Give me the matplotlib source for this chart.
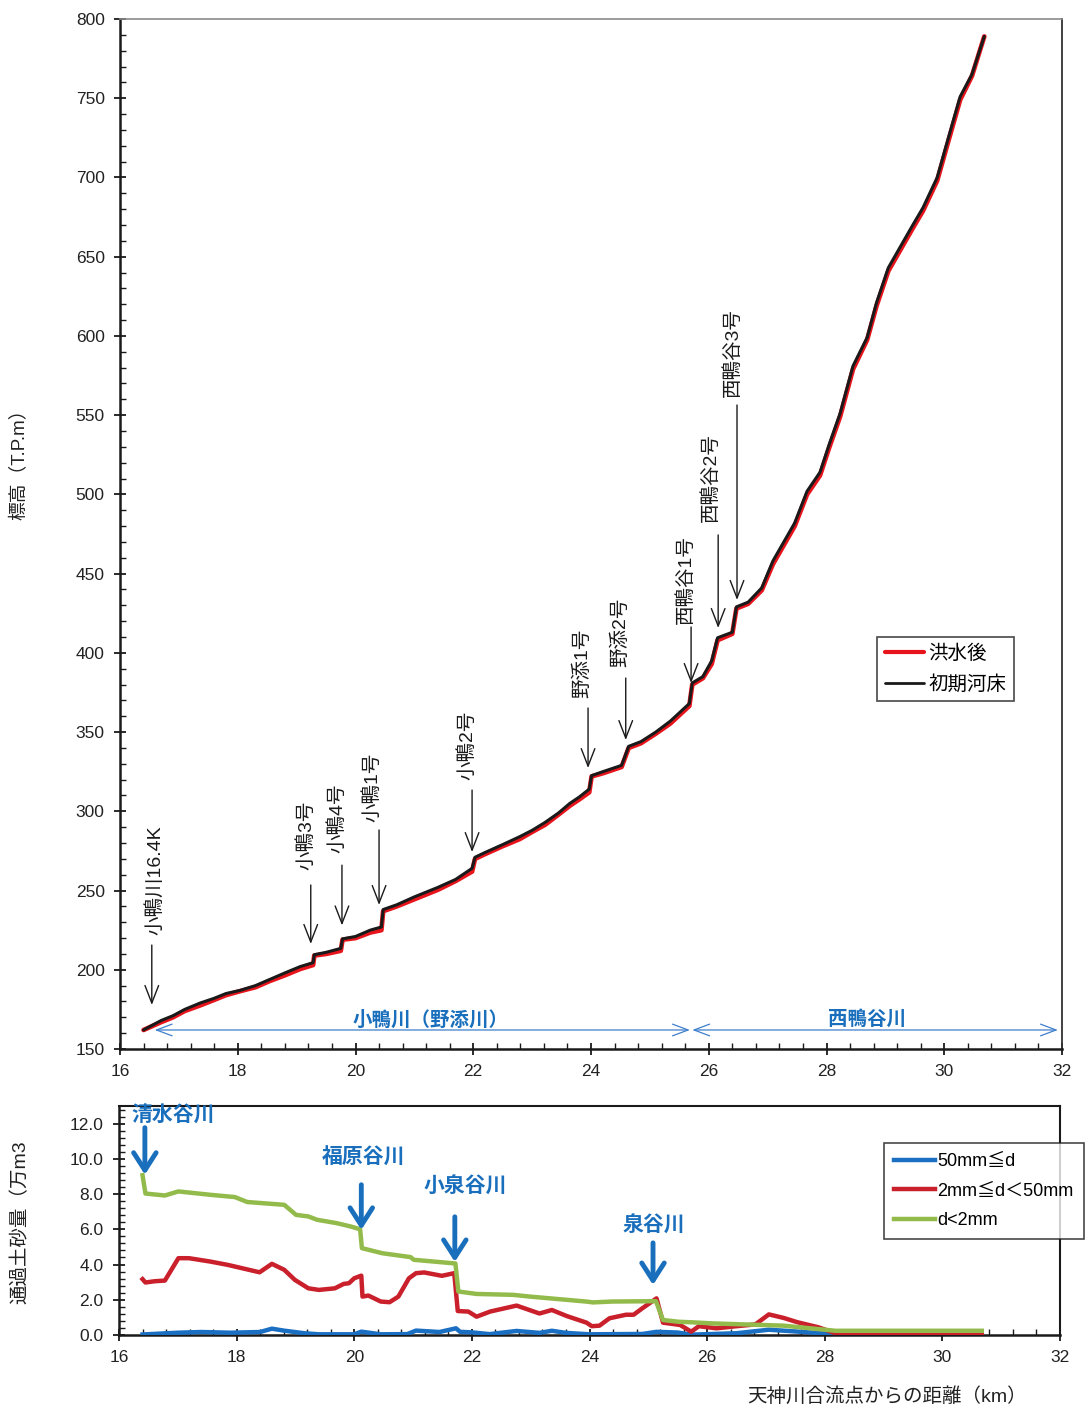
import matplotlib
matplotlib.use("Agg")
import matplotlib.pyplot as plt
from matplotlib.ticker import MultipleLocator

plt.rcParams['font.family'] = ['Liberation Sans', 'Noto Sans CJK JP']

# ---- longitudinal bed profile (distance from Tenjin confluence, km / elevation T.P.m) ----
dist_km = [16.40, 16.55, 16.70, 16.90, 17.10, 17.36, 17.60, 17.80, 18.04, 18.30,
           18.55, 18.80, 19.06, 19.28, 19.30, 19.50, 19.75, 19.78, 20.00, 20.25,
           20.44, 20.47, 20.70, 21.00, 21.40, 21.70, 21.98, 22.03, 22.20, 22.50,
           22.79, 23.00, 23.22, 23.45, 23.64, 23.80, 23.97, 24.01, 24.20, 24.52,
           24.64, 24.85, 25.10, 25.35, 25.67, 25.72, 25.90, 26.05, 26.15, 26.40,
           26.47, 26.67, 26.90, 27.09, 27.46, 27.67, 27.89, 28.05, 28.23, 28.45,
           28.69, 28.85, 29.05, 29.45, 29.64, 29.88, 30.07, 30.27, 30.47, 30.68]
bed_initial = [162, 165, 168, 171, 175, 179, 182, 185, 187, 190,
               194, 198, 202, 204.5, 209.5, 211, 213.5, 219.5, 221, 225,
               227, 238, 241, 246, 252, 257, 264, 271, 274, 279,
               284, 288, 293, 299, 305, 309, 314, 322.5, 325, 329,
               341, 344, 350, 357, 368, 381, 385, 395, 409.5, 413,
               429, 432, 441, 458, 482, 502, 514, 532, 551, 581,
               599, 621, 643, 669, 681, 700, 725, 751, 765, 789]
bed_after = [162, 164.5, 167, 170, 174, 177.5, 181, 184, 186.5, 189,
             193, 196.5, 200.5, 203, 209, 210, 212, 219, 220, 223.5,
             225, 237, 240, 244.5, 250.5, 256, 262, 270, 273, 278,
             282.5, 287, 291.5, 298, 303.5, 307.5, 312, 322, 324, 328,
             340, 343, 349, 355.5, 366.5, 380, 384, 393, 408, 412,
             428, 431, 439.5, 456, 480, 500, 512, 530, 549, 579,
             597.5, 619, 641, 667, 679, 698, 723, 749, 764, 789]

# ---- passing sediment volume (10^4 m3) by grain size ----
coarse_x = [16.40, 17.00, 17.40, 17.90, 18.40, 18.60, 18.80, 19.15, 19.40, 20.00,
            20.12, 20.45, 20.90, 21.05, 21.45, 21.73, 21.80, 22.00, 22.30, 22.76,
            23.15, 23.36, 23.60, 24.00, 24.90, 25.14, 25.50, 25.73, 26.50, 27.05,
            27.60, 28.18, 30.67]
coarse_v = [0.03, 0.13, 0.17, 0.13, 0.17, 0.36, 0.25, 0.10, 0.04, 0.04,
            0.19, 0.04, 0.05, 0.25, 0.17, 0.38, 0.18, 0.15, 0.05, 0.23,
            0.12, 0.24, 0.12, 0.04, 0.06, 0.18, 0.14, 0.02, 0.10, 0.30,
            0.18, 0.04, 0.03]
gravel_x = [16.40, 16.45, 16.60, 16.78, 17.01, 17.19, 17.55, 17.85, 18.39, 18.60,
            18.81, 18.99, 19.22, 19.40, 19.67, 19.82, 19.91, 20.00, 20.12, 20.14,
            20.24, 20.45, 20.60, 20.75, 20.93, 21.05, 21.19, 21.49, 21.70, 21.76,
            21.94, 22.08, 22.31, 22.76, 23.15, 23.36, 23.61, 23.95, 24.04, 24.17,
            24.34, 24.62, 24.75, 24.90, 25.14, 25.25, 25.54, 25.73, 25.86, 26.16,
            26.50, 26.82, 27.05, 27.30, 27.53, 27.89, 28.18, 30.67]
gravel_v = [3.17, 2.98, 3.05, 3.09, 4.36, 4.36, 4.17, 3.98, 3.56, 4.04,
            3.70, 3.13, 2.65, 2.56, 2.65, 2.90, 2.94, 3.22, 3.37, 2.18,
            2.24, 1.90, 1.86, 2.18, 3.22, 3.51, 3.55, 3.36, 3.51, 1.36,
            1.33, 1.04, 1.33, 1.67, 1.22, 1.42, 1.08, 0.70, 0.50, 0.53,
            0.95, 1.15, 1.15, 1.52, 2.08, 0.70, 0.57, 0.19, 0.50, 0.38,
            0.50, 0.60, 1.17, 0.97, 0.73, 0.44, 0.10, 0.00]
fine_x = [16.40, 16.45, 16.78, 17.01, 17.55, 17.97, 18.18, 18.81, 19.01, 19.22,
          19.37, 19.70, 19.94, 20.10, 20.13, 20.48, 20.96, 21.01, 21.72, 21.77,
          22.08, 22.70, 22.99, 23.94, 24.06, 24.39, 25.13, 25.25, 25.52, 25.75,
          26.08, 27.30, 28.18, 30.67]
fine_v = [9.07, 8.03, 7.92, 8.15, 7.96, 7.83, 7.55, 7.39, 6.82, 6.73,
          6.54, 6.35, 6.16, 6.00, 4.93, 4.64, 4.42, 4.27, 4.06, 2.47,
          2.33, 2.28, 2.18, 1.90, 1.85, 1.90, 1.92, 0.85, 0.75, 0.72,
          0.66, 0.53, 0.24, 0.24]

# structure labels: (text, text x, text base elev, arrow x, arrow tail, arrow tip)
structures = [
    ("小鴨川16.4K", 16.59, 222.0, 16.54, 215.6, 177.8),
    ("小鴨3号", 19.16, 263.0, 19.24, 253.5, 216.3),
    ("小鴨4号", 19.69, 273.7, 19.77, 266.0, 228.0),
    ("小鴨1号", 20.28, 293.3, 20.40, 288.2, 240.9),
    ("小鴨2号", 21.89, 319.8, 21.98, 313.4, 274.3),
    ("野添1号", 23.85, 371.5, 23.95, 365.2, 327.3),
    ("野添2号", 24.49, 391.0, 24.59, 384.1, 345.0),
    ("西鴨谷1号", 25.61, 418.0, 25.70, 416.3, 381.0),
    ("西鴨谷2号", 26.02, 482.6, 26.16, 474.4, 415.7),
    ("西鴨谷3号", 26.40, 561.5, 26.48, 556.4, 433.4),
]

# tributaries: (name, text x, text y, arrow x, arrow tail, arrow tip)
tributaries = [
    ("清水谷川", 16.92, 12.51, 16.44, 11.77, 9.10),
    ("福原谷川", 20.15, 10.07, 20.12, 8.53, 5.97),
    ("小泉谷川", 21.88, 8.42, 21.71, 6.71, 4.15),
    ("泉谷川", 25.10, 6.20, 25.08, 5.23, 2.84),
]

W, H = 1086, 1407
fig = plt.figure(figsize=(W / 100, H / 100), dpi=100)
ax = fig.add_axes([120 / W, 1 - 1049 / H, (1062 - 120) / W, (1049 - 19) / H])
ax2 = fig.add_axes([119 / W, 1 - 1335 / H, (1060 - 119) / W, (1335 - 1106) / H])

BLUE_TXT = '#1a6fbd'

# ---------------- upper panel ----------------
ax.plot(dist_km, bed_after, color='#e8141c', lw=3.4, label='洪水後', zorder=3,
        solid_capstyle='round')
ax.plot(dist_km, bed_initial, color='#1a1a1a', lw=2.2, label='初期河床', zorder=4,
        solid_capstyle='round')
ax.set_xlim(16, 32)
ax.set_ylim(150, 800)
ax.xaxis.set_major_locator(MultipleLocator(2))
ax.xaxis.set_minor_locator(MultipleLocator(0.4))
ax.yaxis.set_major_locator(MultipleLocator(50))
ax.yaxis.set_minor_locator(MultipleLocator(10))

for a in (ax, ax2):
    a.tick_params(which='major', direction='inout', length=8, width=1.3,
                  labelsize=12.5, color='#1a1a1a', labelcolor='#222222', pad=7)
    a.tick_params(which='minor', direction='in', length=4, width=1.0, color='#1a1a1a')
    a.tick_params(top=False, right=False, which='both')
    a.spines['left'].set_linewidth(1.8)
    a.spines['bottom'].set_linewidth(1.8)
    a.spines['left'].set_color('#1a1a1a')
    a.spines['bottom'].set_color('#1a1a1a')

ax.spines['top'].set_color('#8a8a8a')
ax.spines['top'].set_linewidth(1.2)
ax.spines['right'].set_color('#333333')
ax.spines['right'].set_linewidth(1.3)

for name, tx, ty, axx, tail, tip in structures:
    ax.text(tx, ty, name, rotation=90, ha='center', va='bottom', fontsize=14,
            color='#1a1a1a', zorder=6)
    ax.annotate('', xy=(axx, tip), xytext=(axx, tail),
                arrowprops=dict(arrowstyle='->,head_length=0.9,head_width=0.35',
                                lw=1.0, color='#1a1a1a', mutation_scale=14,
                                shrinkA=0, shrinkB=0), zorder=6)

# reach extents
ax.annotate('', xy=(16.59, 162), xytext=(25.68, 162),
            arrowprops=dict(arrowstyle='<->,head_length=0.8,head_width=0.3',
                            lw=0.9, color='#3f7fcc', mutation_scale=14,
                            shrinkA=0, shrinkB=0))
ax.annotate('', xy=(25.72, 162), xytext=(31.93, 162),
            arrowprops=dict(arrowstyle='<->,head_length=0.8,head_width=0.3',
                            lw=0.9, color='#3f7fcc', mutation_scale=14,
                            shrinkA=0, shrinkB=0))
ax.text(21.27, 168.5, '小鴨川（野添川）', ha='center', va='center', fontsize=14,
        fontweight='bold', color=BLUE_TXT)
ax.text(28.69, 168.5, '西鴨谷川', ha='center', va='center', fontsize=14,
        fontweight='bold', color=BLUE_TXT)

leg = ax.legend(loc='upper left', bbox_to_anchor=(877 / W, 1 - 637 / H),
                bbox_transform=fig.transFigure, fontsize=14, frameon=True,
                fancybox=False, edgecolor='#1a1a1a', handlelength=2.0,
                handletextpad=0.25, borderpad=0.4, labelspacing=0.6,
                borderaxespad=0)
leg.get_frame().set_linewidth(1.2)
leg.get_lines()[0].set_linewidth(3)
leg.get_lines()[1].set_linewidth(2)

# ---------------- lower panel ----------------
ax2.plot(coarse_x, coarse_v, color='#1a6fc2', lw=3.2, label='50mm≦d', zorder=3)
ax2.plot(gravel_x, gravel_v, color='#c9202c', lw=3.2, label='2mm≦d＜50mm', zorder=4)
ax2.plot(fine_x, fine_v, color='#93bb4b', lw=3.2, label='d<2mm', zorder=5)
ax2.set_xlim(16, 32)
ax2.set_ylim(0, 13)
ax2.xaxis.set_major_locator(MultipleLocator(2))
ax2.xaxis.set_minor_locator(MultipleLocator(0.4))
ax2.yaxis.set_major_locator(MultipleLocator(2))
ax2.yaxis.set_minor_locator(MultipleLocator(0.4))
ax2.set_yticks([0, 2, 4, 6, 8, 10, 12])
ax2.set_yticklabels(['0.0', '2.0', '4.0', '6.0', '8.0', '10.0', '12.0'])
ax2.spines['top'].set_color('#1a1a1a')
ax2.spines['top'].set_linewidth(1.5)
ax2.spines['right'].set_color('#1a1a1a')
ax2.spines['right'].set_linewidth(1.5)

for name, tx, ty, axx, tail, tip in tributaries:
    ax2.text(tx, ty, name, ha='center', va='center', fontsize=15,
             fontweight='bold', color=BLUE_TXT, zorder=7, clip_on=False)
    ax2.annotate('', xy=(axx, tip), xytext=(axx, tail),
                 arrowprops=dict(arrowstyle='->,head_length=0.7,head_width=0.45',
                                 lw=3.5, color='#1a6fbd', mutation_scale=18,
                                 shrinkA=0, shrinkB=0), zorder=7)

leg2 = ax2.legend(loc='upper left', bbox_to_anchor=(884 / W, 1 - 1143 / H),
                  bbox_transform=fig.transFigure, fontsize=13, frameon=True,
                  fancybox=False, edgecolor='#1a1a1a', handlelength=2.3,
                  handletextpad=0.12, borderpad=0.55, labelspacing=0.7,
                  borderaxespad=0)
leg2.get_frame().set_linewidth(1.2)

# axis titles
fig.text(20 / W, 1 - 460 / H, '標高（T.P.m）', rotation=90, ha='center', va='center',
         fontsize=13.5, color='#222222')
fig.text(20 / W, 1 - 1222 / H, '通過土砂量（万m3', rotation=90, ha='center', va='center',
         fontsize=14, color='#222222')
fig.text(887 / W, 1 - 1396 / H, '天神川合流点からの距離（km）', ha='center', va='center',
         fontsize=14, color='#222222')

fig.savefig('out.png', dpi=100, facecolor='white')
